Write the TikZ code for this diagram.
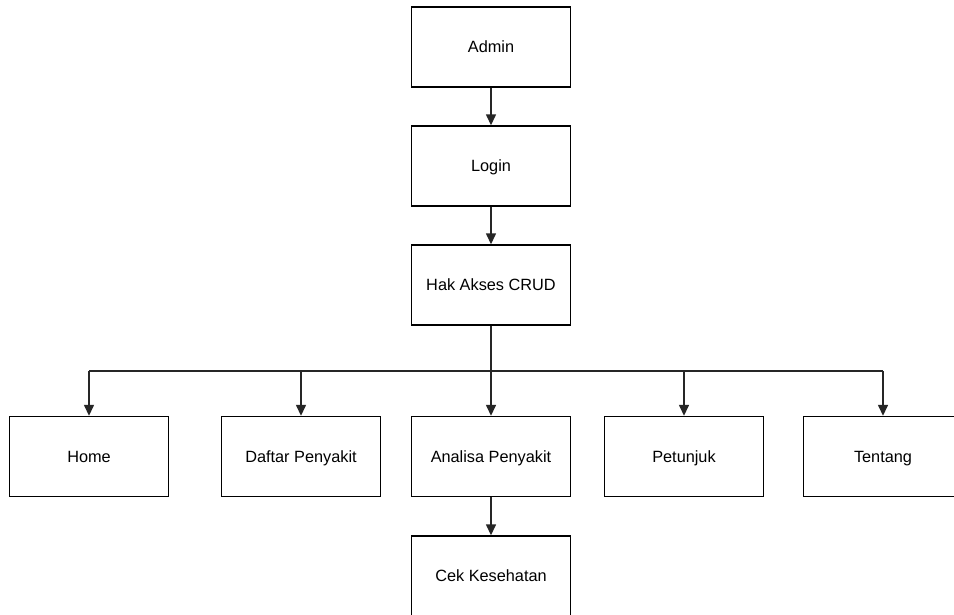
\documentclass[tikz,border=0pt]{standalone}
\usepackage{fontspec}
\setmainfont{Liberation Sans}
\usetikzlibrary{arrows.meta}
\begin{document}
\begin{tikzpicture}[x=1pt,y=-1pt,
  box/.style={draw=black, line width=1.4pt, minimum width=159pt, minimum height=80pt,
    inner sep=0pt, text height=11.7pt, text depth=0pt,
    font=\fontsize{16.3}{19}\selectfont, fill=white},
  wire/.style={draw=black!85, line width=1.4pt},
  link/.style={wire, -{Triangle[length=11pt,width=10pt]}}]
\useasboundingbox[fill=white] (0,0) rectangle (954,614);
% top chain
\node[box] (admin) at (491,47) {Admin};
\node[box] (login) at (491,166) {Login};
\node[box] (crud)  at (491,285) {Hak Akses CRUD};
% menu row
\node[box] (home)     at (89,456.5)  {Home};
\node[box] (daftar)   at (301,456.5) {Daftar Penyakit};
\node[box] (analisa)  at (491,456.5) {Analisa Penyakit};
\node[box] (petunjuk) at (684,456.5) {Petunjuk};
\node[box] (tentang)  at (883,456.5) {Tentang};
\node[box] (cek)      at (491,576)   {Cek Kesehatan};
% junction line under the CRUD box
\coordinate (bus) at (491,371);
\draw[link] (admin) -- (login);
\draw[link] (login) -- (crud);
\draw[wire] (crud.south) -- (bus);
\draw[wire] (home.north |- bus) -- (tentang.north |- bus);
\draw[link] (home.north |- bus) -- (home.north);
\draw[link] (daftar.north |- bus) -- (daftar.north);
\draw[link] (bus) -- (analisa.north);
\draw[link] (petunjuk.north |- bus) -- (petunjuk.north);
\draw[link] (tentang.north |- bus) -- (tentang.north);
\draw[link] (analisa) -- (cek);
\end{tikzpicture}
\end{document}
